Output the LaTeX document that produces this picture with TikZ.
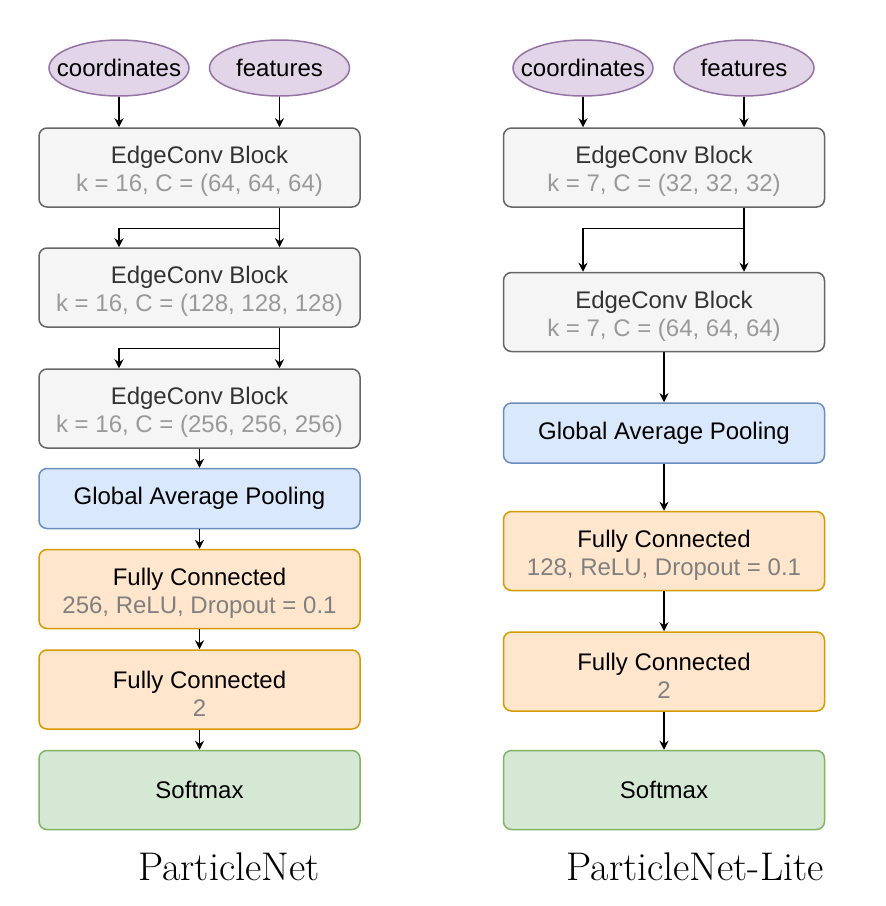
\documentclass[tikz,border=0pt]{standalone}
\usepackage{fontspec}
\newfontfamily\diagfont{Liberation Sans}
\usetikzlibrary{arrows.meta, positioning, shapes.geometric}
\definecolor{grayfill}{HTML}{F5F5F5}
\definecolor{graydraw}{HTML}{666666}
\definecolor{graytext}{HTML}{333333}
\definecolor{subgray}{HTML}{999999}
\definecolor{fcgray}{HTML}{808080}
\definecolor{bluefill}{HTML}{DAE8FC}
\definecolor{bluedraw}{HTML}{6C8EBF}
\definecolor{orangefill}{HTML}{FFE6CC}
\definecolor{orangedraw}{HTML}{D79B00}
\definecolor{greenfill}{HTML}{D5E8D4}
\definecolor{greendraw}{HTML}{82B366}
\definecolor{purplefill}{HTML}{E1D5E7}
\definecolor{purpledraw}{HTML}{9673A6}

\begin{document}
\begin{tikzpicture}[x=0.5pt, y=0.5pt,
    block/.style={rectangle, rounded corners=4pt, line width=0.75pt, minimum width=160.5pt,
        minimum height=39.5pt, align=center, inner sep=0pt, font=\diagfont\fontsize{12}{14}\selectfont},
    edgeblock/.style={block, fill=grayfill, draw=graydraw, text=graytext},
    poolblock/.style={block, fill=bluefill, draw=bluedraw, minimum height=30pt},
    fcblock/.style={block, fill=orangefill, draw=orangedraw},
    softblock/.style={block, fill=greenfill, draw=greendraw},
    inputnode/.style={ellipse, fill=purplefill, draw=purpledraw, line width=0.75pt, minimum width=70pt,
        minimum height=28pt, inner xsep=-8pt, inner ysep=0pt, font=\diagfont\fontsize{12}{14}\selectfont},
    flow/.style={line width=0.75pt, -{Stealth[length=4.5pt, width=4.5pt]}},
    title/.style={font=\fontsize{20}{24}\selectfont}
]
    % Define dimensions (in px of the layout)
    \def\leftx{199.5}
    \def\rightx{664}
    % first line of a two-line block sits a little lower
    \def\up{\rule{0pt}{12.5pt}}

    \useasboundingbox (0,0) rectangle (885,-906);

    % ParticleNet column
    \node[inputnode] (lcoord) at (119,-68) {coordinates};
    \node[inputnode] (lfeat) at (279.5,-68) {features};
    \node[edgeblock] (lec1) at (\leftx,-167.5) {\up EdgeConv Block\\\textcolor{subgray}{k = 16, C = (64, 64, 64)}};
    \node[edgeblock] (lec2) at (\leftx,-287.5) {\up EdgeConv Block\\\textcolor{subgray}{k = 16, C = (128, 128, 128)}};
    \node[edgeblock] (lec3) at (\leftx,-408.5) {\up EdgeConv Block\\\textcolor{subgray}{k = 16, C = (256, 256, 256)}};
    \node[poolblock] (lgap) at (\leftx,-498.5) {Global Average Pooling};
    \node[fcblock] (lfc1) at (\leftx,-589) {\up Fully Connected\\\textcolor{fcgray}{256, ReLU, Dropout = 0.1}};
    \node[fcblock] (lfc2) at (\leftx,-689.5) {\up Fully Connected\\\textcolor{fcgray}{2}};
    \node[softblock] (lsoft) at (\leftx,-790) {Softmax};
    \node[title] (ltitle) at (229,-867) {ParticleNet};

    \draw[flow] (lcoord) -- (lcoord |- lec1.north);
    \draw[flow] (lfeat) -- (lfeat |- lec1.north);
    \draw[flow] (lec1.south -| lfeat) -- (lec2.north -| lfeat);
    \draw[flow] (lec1.south -| lfeat) -- ++(0,-20.5) -| (lec2.north -| lcoord);
    \draw[flow] (lec2.south -| lfeat) -- (lec3.north -| lfeat);
    \draw[flow] (lec2.south -| lfeat) -- ++(0,-20.5) -| (lec3.north -| lcoord);
    \draw[flow] (lec3) -- (lgap);
    \draw[flow] (lgap) -- (lfc1);
    \draw[flow] (lfc1) -- (lfc2);
    \draw[flow] (lfc2) -- (lsoft);

    % ParticleNet-Lite column
    \node[inputnode] (rcoord) at (583,-68) {coordinates};
    \node[inputnode] (rfeat) at (744,-68) {features};
    \node[edgeblock] (rec1) at (\rightx,-167.5) {\up EdgeConv Block\\\textcolor{subgray}{k = 7, C = (32, 32, 32)}};
    \node[edgeblock] (rec2) at (\rightx,-312) {\up EdgeConv Block\\\textcolor{subgray}{k = 7, C = (64, 64, 64)}};
    \node[poolblock] (rgap) at (\rightx,-433) {Global Average Pooling};
    \node[fcblock] (rfc1) at (\rightx,-551) {\up Fully Connected\\\textcolor{fcgray}{128, ReLU, Dropout = 0.1}};
    \node[fcblock] (rfc2) at (\rightx,-671.5) {\up Fully Connected\\\textcolor{fcgray}{2}};
    \node[softblock] (rsoft) at (\rightx,-790) {Softmax};
    \node[title] (rtitle) at (695,-867) {ParticleNet-Lite};

    \draw[flow] (rcoord) -- (rcoord |- rec1.north);
    \draw[flow] (rfeat) -- (rfeat |- rec1.north);
    \draw[flow] (rec1.south -| rfeat) -- (rec2.north -| rfeat);
    \draw[flow] (rec1.south -| rfeat) -- ++(0,-20.5) -| (rec2.north -| rcoord);
    \draw[flow] (rec2) -- (rgap);
    \draw[flow] (rgap) -- (rfc1);
    \draw[flow] (rfc1) -- (rfc2);
    \draw[flow] (rfc2) -- (rsoft);
\end{tikzpicture}
\end{document}
